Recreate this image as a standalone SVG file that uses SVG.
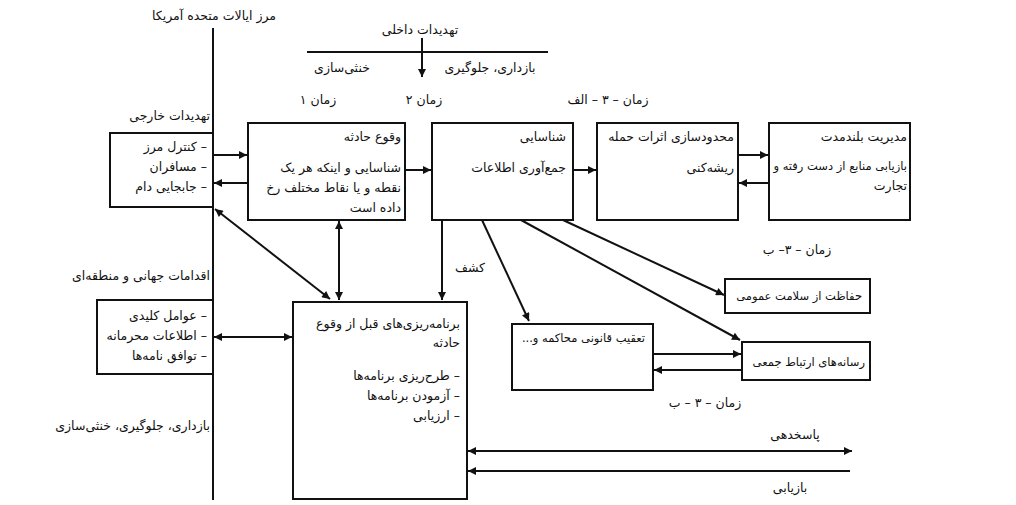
<svg xmlns="http://www.w3.org/2000/svg" width="1016" height="505" viewBox="0 0 1016 505">
<defs>
<marker id="ah" viewBox="0 0 10 10" refX="10" refY="5" markerWidth="10" markerHeight="8" markerUnits="userSpaceOnUse" orient="auto-start-reverse"><path d="M0,0L10,5L0,10z" fill="#111"/></marker>
<style>
text{font-family:"DejaVu Sans","Noto Sans",sans-serif;font-size:12.5px;fill:#111}
.r{direction:rtl;text-anchor:start}
.c{text-anchor:middle;direction:rtl}
.s{font-size:11.5px}
rect{fill:#fff;stroke:#111;stroke-width:2}
.ln{stroke:#111;stroke-width:2;fill:none}
.a{marker-end:url(#ah)}
.b{marker-start:url(#ah);marker-end:url(#ah)}
</style>
</defs>
<rect x="0" y="0" width="1016" height="505" style="stroke:none"/>
<g id="labels">
<text class="c" x="214" y="20">مرز ایالات متحده آمریکا</text>
<text class="c" x="420" y="34">تهدیدات داخلی</text>
<text class="c" x="342" y="72">خنثی‌سازی</text>
<text class="c" x="490" y="72">بازداری، جلوگیری</text>
<text class="c" x="318" y="104">زمان ۱</text>
<text class="c" x="424" y="104">زمان ۲</text>
<text class="c" x="608" y="104">زمان – ۳ – الف</text>
<text class="r" x="210" y="120">تهدیدات خارجی</text>
<text class="c" x="797" y="254">زمان – ۳– ب</text>
<text class="c" x="470" y="272">کشف</text>
<text class="r" x="210" y="280">اقدامات جهانی و منطقه‌ای</text>
<text class="r" x="210" y="430">بازداری، جلوگیری، خنثی‌سازی</text>
<text class="c" x="705" y="407">زمان – ۳ – ب</text>
<text class="c" x="795" y="439">پاسخدهی</text>
<text class="c" x="790" y="492">بازیابی</text>
</g>
<g id="ext"><rect x="110" y="133" width="103" height="74"/>
<text class="r" x="207" y="151">– کنترل مرز</text><text class="r" x="207" y="171">– مسافران</text><text class="r" x="207" y="191">– جابجایی دام</text></g>
<g id="event"><rect x="248" y="123" width="157" height="97"/>
<text class="r" x="401" y="141">وقوع حادثه</text><text class="r" x="401" y="172">شناسایی و اینکه هر یک</text><text class="r" x="401" y="192">نقطه و یا نقاط مختلف رخ</text><text class="r" x="401" y="212">داده است</text></g>
<g id="ident"><rect x="432" y="123" width="141" height="97"/>
<text class="r" x="566" y="141">شناسایی</text><text class="r" x="566" y="172">جمع‌آوری اطلاعات</text></g>
<g id="limit"><rect x="597" y="123" width="141" height="97"/>
<text class="r" x="734" y="141">محدودسازی اثرات حمله</text><text class="r" x="734" y="172">ریشه‌کنی</text></g>
<g id="mgmt"><rect x="769" y="123" width="141" height="97"/>
<text class="r" x="907" y="141">مدیریت بلندمدت</text><text class="r s" x="907" y="170">بازیابی منابع از دست رفته و</text><text class="r" x="907" y="190">تجارت</text></g>
<g id="health"><rect x="725" y="279" width="145" height="34"/><text class="r s" x="862" y="300">حفاظت از سلامت عمومی</text></g>
<g id="legal"><rect x="512" y="324" width="141" height="66"/><text class="r s" x="645" y="342">تعقیب قانونی محاکمه و...</text></g>
<g id="media"><rect x="742" y="342" width="128" height="38"/><text class="r s" x="865" y="366">رسانه‌های ارتباط جمعی</text></g>
<g id="global"><rect x="97" y="300" width="116" height="74"/>
<text class="r" x="207" y="320">– عوامل کلیدی</text><text class="r" x="207" y="340">– اطلاعات محرمانه</text><text class="r" x="207" y="360">– توافق نامه‌ها</text></g>
<g id="plan"><rect x="293" y="302" width="174" height="197"/>
<text class="r" x="460" y="328">برنامه‌ریزی‌های قبل از وقوع</text><text class="r" x="460" y="347">حادثه</text>
<text class="r" x="460" y="380">– طرح‌ریزی برنامه‌ها</text><text class="r" x="460" y="400">– آزمودن برنامه‌ها</text><text class="r" x="460" y="420">– ارزیابی</text></g>
<g id="connectors">
<line class="ln" x1="213" y1="28" x2="213" y2="500"/>
<line class="ln" x1="307" y1="52" x2="548" y2="52"/>
<line class="ln a" x1="422" y1="38" x2="422" y2="77"/>
<line class="ln a" x1="213" y1="155" x2="247" y2="155"/>
<line class="ln a" x1="248" y1="183" x2="214" y2="183"/>
<line class="ln a" x1="405" y1="170" x2="431" y2="170"/>
<line class="ln a" x1="573" y1="170" x2="596" y2="170"/>
<line class="ln a" x1="738" y1="155" x2="768" y2="155"/>
<line class="ln a" x1="769" y1="183" x2="739" y2="183"/>
<line class="ln a" x1="442" y1="220" x2="442" y2="300"/>
<line class="ln a" x1="482" y1="220" x2="529" y2="321"/>
<line class="ln a" x1="521" y1="220" x2="740" y2="340"/>
<line class="ln a" x1="563" y1="220" x2="724" y2="295"/>
<line class="ln a" x1="653" y1="354" x2="741" y2="354"/>
<line class="ln a" x1="742" y1="370" x2="654" y2="370"/>
<line class="ln b" x1="215" y1="209" x2="330" y2="299"/>
<line class="ln b" x1="339" y1="221" x2="339" y2="300"/>
<line class="ln b" x1="214" y1="337" x2="292" y2="337"/>
<line class="ln b" x1="468" y1="451" x2="852" y2="451"/>
<line class="ln a" x1="850" y1="471" x2="468" y2="471"/>
</g>
</svg>
